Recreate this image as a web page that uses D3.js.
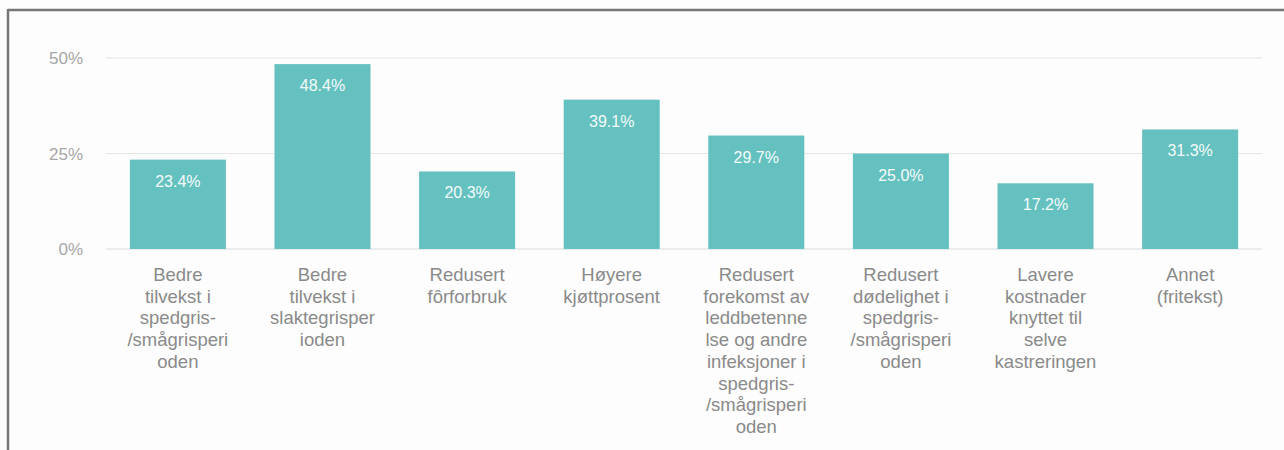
<!DOCTYPE html>
<html><head><meta charset="utf-8">
<script src="https://cdn.jsdelivr.net/npm/d3@7"></script>
<style>
html,body{margin:0;padding:0;background:#fdfdfd;}
svg{display:block;}
text{font-family:"Liberation Sans",Arial,sans-serif;}
</style></head>
<body><svg id="c" width="1284" height="450"></svg>
<script>
const categories = [
  ["Bedre","tilvekst i","spedgris-","/smågrisperi","oden"],
  ["Bedre","tilvekst i","slaktegrisper","ioden"],
  ["Redusert","fôrforbruk"],
  ["Høyere","kjøttprosent"],
  ["Redusert","forekomst av","leddbetenne","lse og andre","infeksjoner i","spedgris-","/smågrisperi","oden"],
  ["Redusert","dødelighet i","spedgris-","/smågrisperi","oden"],
  ["Lavere","kostnader","knyttet til","selve","kastreringen"],
  ["Annet","(fritekst)"]
];
const values = [23.4, 48.4, 20.3, 39.1, 29.7, 25.0, 17.2, 31.3];
const yTicks = [0, 25, 50];
const yTickLabels = ["0%", "25%", "50%"];

const svg = d3.select("#c");
// frame
svg.append("rect").attr("x",0).attr("y",0).attr("width",1284).attr("height",450).attr("fill","#fdfdfd");
svg.append("line").attr("x1",8).attr("x2",1284).attr("y1",10).attr("y2",10).attr("stroke","#777").attr("stroke-width",2.5);
svg.append("line").attr("x1",8).attr("x2",8).attr("y1",9).attr("y2",450).attr("stroke","#777").attr("stroke-width",2.5);

const x = d3.scaleBand().domain(d3.range(values.length)).range([106, 1262]).paddingInner(0.336).paddingOuter(0.165);
const y = d3.scaleLinear().domain([0, 50]).range([249, 58]);

// gridlines
svg.append("g").selectAll("line").data(yTicks).join("line")
  .attr("x1",106).attr("x2",1262)
  .attr("y1",d=>y(d)).attr("y2",d=>y(d))
  .attr("stroke",d=>d===0?"#d8dde0":"#e6e6e6").attr("stroke-width",1.2);

// y tick labels
svg.append("g").selectAll("text").data(yTicks).join("text")
  .attr("x",83).attr("y",d=>y(d)+6)
  .attr("text-anchor","end").attr("font-size",17).attr("fill","#a6a6a6")
  .text((d,i)=>yTickLabels[i]);

// bars
svg.append("g").selectAll("rect").data(values).join("rect")
  .attr("x",(d,i)=>x(i)).attr("width",x.bandwidth())
  .attr("y",d=>y(d)).attr("height",d=>y(0)-y(d))
  .attr("fill","#65c1bf");

// value labels
svg.append("g").selectAll("text").data(values).join("text")
  .attr("x",(d,i)=>x(i)+x.bandwidth()/2).attr("y",d=>y(d)+27)
  .attr("text-anchor","middle").attr("font-size",16).attr("fill","#f4fbfb")
  .text(d=>d.toFixed(1)+"%");

// category labels
const cg = svg.append("g").selectAll("text").data(categories).join("text")
  .attr("x",(d,i)=>x(i)+x.bandwidth()/2).attr("y",281)
  .attr("text-anchor","middle").attr("font-size",18.5).attr("fill","#8a8a8a");
cg.selectAll("tspan").data(d=>d).join("tspan")
  .attr("x",function(){return d3.select(this.parentNode).attr("x");})
  .attr("dy",(d,i)=>i===0?0:21.7)
  .text(d=>d);
</script></body></html>
